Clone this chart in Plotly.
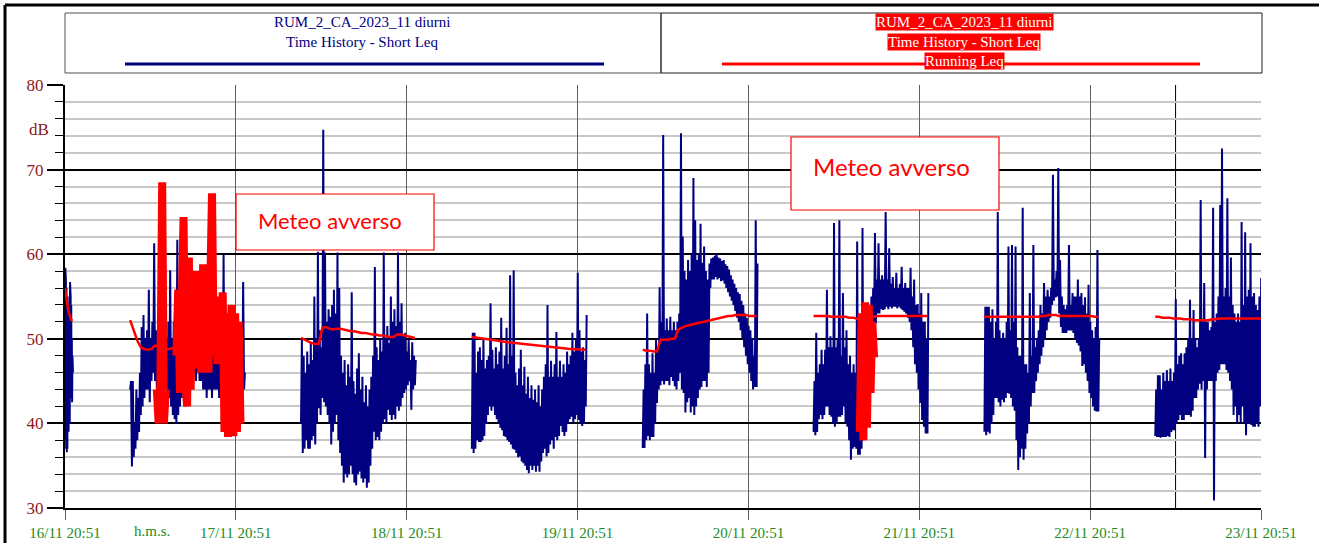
import pandas as pd
import plotly.graph_objects as go

# ---------------- data ----------------
AXIS_START = "2023-11-16 20:51"
AXIS_END = "2023-11-23 20:51"
day_ticks = ["2023-11-16 20:51", "2023-11-17 20:51", "2023-11-18 20:51", "2023-11-19 20:51",
             "2023-11-20 20:51", "2023-11-21 20:51", "2023-11-22 20:51", "2023-11-23 20:51"]
day_labels = ["16/11 20:51", "17/11 20:51", "18/11 20:51", "19/11 20:51",
              "20/11 20:51", "21/11 20:51", "22/11 20:51", "23/11 20:51"]
cursor_time = "2023-11-23 08:51"
y_ticks = [30, 40, 50, 60, 70, 80]

# daytime segments (start, step in minutes)
seg_starts = ["2023-11-16 20:51", "2023-11-17 06:00", "2023-11-18 06:00", "2023-11-19 06:00",
              "2023-11-20 06:00", "2023-11-21 06:00", "2023-11-22 06:00", "2023-11-23 06:00"]
short_step_min = [5, 15, 15, 15, 15, 15, 15, 15]
running_step_min = [5, 30, 30, 30, 30, 30, 30, 30]

# Short Leq: max and min within each interval (dB)
max_16 = [58.4, 57, 56, 55, 54, 53, 52, 55, 56.7, 55, 54, 50, 48, 46]
min_16 = [38, 39, 37, 36.6, 37, 38, 39, 41, 40, 42, 44, 43, 42.5, 43]

max_17 = [45, 45, 40, 44, 43, 46, 51.4, 52.8, 50, 51, 55.8, 50, 52, 61.3, 51, 50,
          49, 50, 48, 51, 50, 52, 58.1, 50, 52, 51, 61.7, 50, 52, 51, 50, 52,
          51, 50, 52, 51, 50, 52, 51, 50, 52, 51, 50, 49, 51, 50, 49, 50,
          51, 50, 49, 50, 60, 52, 50, 51, 49, 50, 48, 50, 49, 47, 50, 56.7, 46]
min_17 = [44, 34.9, 36, 37, 38, 39, 41, 42, 43, 44, 44, 42.5, 45, 46, 45, 44,
          42, 41, 42, 42, 43, 42, 43, 42, 41, 40.5, 40, 41, 42, 43, 44, 44,
          45, 45, 46, 45, 46, 45, 46, 45, 45, 44, 44, 43, 44, 44, 43, 44,
          44, 44, 43, 43, 42, 42, 41, 41, 40, 39.5, 40, 39, 39, 39.2, 40, 42, 44]

max_18 = [50, 48, 46, 48.5, 47, 49.5, 47.5, 55, 50, 60.3, 51, 49, 74.7, 60.2, 52, 53.5,
          52.6, 54, 55.8, 53, 60.2, 56, 48, 46, 47.5, 44.5, 47, 45.5, 55.5, 45, 43.5, 46.5,
          48.3, 44, 45.5, 42.5, 44.5, 42, 44, 45.5, 48, 58.5, 49, 47.5, 50, 48.5, 60.2, 50,
          51.5, 49.5, 55, 52, 53.5, 51.5, 60.2, 52, 54.2, 50.5, 50.7, 48.5, 50, 47.5, 49.6, 48, 47.5]
min_18 = [40, 36.5, 37, 38, 37, 37, 38, 38.5, 37.5, 40, 41.8, 41, 43, 42.5, 42, 41,
          40, 37.5, 39, 40, 41, 38, 36.5, 35, 33, 34, 33.6, 34, 35, 34, 33, 32.7,
          34, 34.3, 33.5, 33, 33.5, 32.4, 33, 35, 37, 39, 38, 38.4, 38, 39, 40, 40.5,
          40, 41.6, 41, 40.4, 41, 40.5, 42, 41.5, 42, 43, 43.6, 44, 44.5, 45, 41.6, 44, 44.5]

max_19 = [50.7, 50.7, 46, 48.5, 49, 47.5, 50, 46.5, 47.5, 48, 54.2, 48.7, 46.5, 49, 47, 48.5,
          52.5, 46.5, 48, 51.3, 47, 57.5, 48, 58.1, 46, 44.5, 46.5, 48.7, 44.5, 46.7, 43.5, 45.5,
          43, 44.5, 42.8, 44, 42.5, 44.5, 42, 44, 45.5, 47, 54, 45.5, 47.4, 45.5, 47, 50.8,
          45.5, 47.4, 45.5, 47, 46, 48.5, 47, 48, 50.7, 48.5, 50, 57.8, 51, 48.5, 49, 47.5, 52.8]
min_19 = [37, 36.5, 37, 38, 37.8, 37.8, 38, 38.5, 40, 41, 42, 41.5, 42, 41, 40.5, 40,
          39.5, 39.2, 38.5, 38.4, 38, 37.8, 37.5, 37, 36.9, 36.5, 36, 36.1, 35.5, 35.3, 35, 34.5,
          34.1, 35, 34.5, 35, 34.3, 35, 34.3, 35.5, 36.5, 37, 36.1, 36.5, 37.5, 38, 37, 38.4,
          38, 38.5, 39.7, 39, 38.5, 39, 40, 40.5, 40.8, 40, 40.5, 41, 40.4, 40, 39.7, 40, 42]

max_20 = [44, 47, 53, 47, 46, 48.3, 46, 49.9, 49, 56.1, 52, 74.1, 51, 52.4, 51, 52.6,
          51, 52, 51, 52, 53, 74.3, 62.1, 58, 57, 59.3, 58, 60, 69, 64, 59.3, 60,
          63.6, 59, 60.9, 58, 57, 58.9, 59.5, 59.6, 59.8, 60.1, 59.6, 59.5, 59.2, 59.3, 58.8, 58.6,
          58.2, 57.5, 57, 56.5, 56, 55.5, 55.3, 54.5, 54, 53, 52.5, 51.5, 51, 50, 48, 64, 58.9]
min_20 = [37.1, 37.1, 38, 38.5, 38, 38.4, 38.4, 40, 42.4, 44, 44.5, 45, 44.6, 45, 45, 44.5,
          45.5, 45, 44.4, 44, 45, 46, 44, 43.6, 41.3, 42.5, 43, 41.3, 42, 41, 42, 43,
          44, 44.3, 45, 45, 44.3, 46, 56, 57, 57, 57.3, 57, 57.2, 56.8, 56.9, 56.5, 56,
          55.5, 55, 54.5, 54, 53.3, 52.5, 52, 51, 50, 49, 48, 47, 46, 45, 44, 44.3, 44.3]

max_21 = [45, 50.7, 46, 47, 48.7, 47, 48.7, 55.8, 49, 50.3, 49, 63.7, 49, 50, 64, 48,
          55.4, 49, 51, 47, 48, 46, 47, 46, 61.5, 47, 46, 63.1, 50, 52, 53, 54,
          55, 56, 62.5, 57, 61.3, 57, 57.5, 57, 65, 57, 60.7, 56.5, 57.3, 56, 57.8, 56,
          56.5, 58.5, 56, 56.6, 56, 56, 58.4, 55, 57, 54, 54.1, 53, 55.4, 52, 52, 50, 55.4]
min_21 = [39, 38.6, 39, 40.5, 41, 40.5, 41, 42, 42, 41, 40.8, 40, 39.6, 40, 40.8, 40.8,
          41, 42, 40, 39.6, 38, 35.7, 37, 37.2, 37, 36.3, 36.3, 37, 38, 40, 42, 45,
          47, 50, 52, 51.8, 53, 53, 53.5, 53.4, 53.5, 53.8, 53.5, 53.8, 53.6, 53.8, 53.8, 53.6,
          53.8, 53.6, 53.4, 53.2, 53, 52.5, 52, 51, 49, 47, 46, 44, 42.4, 40.4, 39.6, 38.8, 38.8]

max_22 = [53.8, 53.8, 53.8, 52, 53.5, 50, 52, 65, 51, 50, 50.7, 50, 52, 60.9, 51, 61.1,
          52, 60.9, 49, 48, 48, 65.5, 47, 47, 46, 55.4, 48, 61.1, 49, 50, 51, 54,
          53, 56.6, 55, 55.8, 55, 56, 69.4, 57, 58, 70.2, 59.3, 55, 54, 53.5, 54, 61.1,
          54, 55.4, 55, 55, 57, 55, 55.4, 54, 54.9, 53, 56.4, 52, 51, 50, 51.4, 60.5, 50]
min_22 = [39, 38.6, 39, 38.8, 40, 41, 43, 43, 42.5, 42, 42.8, 42.5, 43, 43.6, 43.5, 43,
          42, 41.5, 38, 34.5, 36, 37, 35.7, 37, 38.8, 40, 42, 43.6, 43.6, 45, 46, 47,
          48, 49, 50, 51, 52, 52.5, 54, 54.5, 54.9, 55, 53, 51.4, 50.7, 50.7, 50.7, 51,
          51, 51, 50.7, 50, 49.5, 49.2, 48.5, 46.8, 47, 46, 45, 43.6, 43, 42, 41.5, 41.4, 41.4]

max_23 = [44, 45.7, 45.7, 44, 46, 45, 46.3, 45, 46.5, 45, 46, 54.7, 47, 48, 48.3, 47,
          48.3, 49, 50.1, 54.6, 50, 53.4, 50, 49, 50.1, 66.4, 52, 56.6, 52, 52, 51, 51.4,
          65.5, 52, 53, 55, 65.8, 72.5, 55, 56, 66.6, 55, 59.6, 54, 53, 52, 53, 52,
          63.8, 54, 62.6, 55, 55.8, 61.3, 55, 55.4, 54, 53.4, 55, 57.2]
min_23 = [38.5, 38.4, 38.4, 38.3, 38.4, 38.4, 38.4, 38.5, 38.4, 39, 39.2, 39.2, 40, 40.4, 41, 40.4,
          40.4, 41, 41, 41, 40.8, 41.5, 43, 43, 44, 44.7, 44, 45, 35.9, 44, 45, 45,
          45, 30.9, 45, 46, 46.3, 47, 47, 47, 46.3, 46, 45, 44, 41, 42, 40, 41,
          40, 42, 40, 38.6, 40, 40, 39.8, 39.6, 39.6, 40, 39.6, 42]

short_max = [max_16, max_17, max_18, max_19, max_20, max_21, max_22, max_23]
short_min = [min_16, min_17, min_18, min_19, min_20, min_21, min_22, min_23]

# Running Leq (dB)
run_16 = [56, 55.4, 55, 54.5, 54, 53.6, 53.2, 52.9, 52.6, 52.4, 52.3, 52.2, 52.2, 52.2]
run_17 = [52.2, 51, 49.8, 49, 48.8, 48.7, 48.8, 49.2, 49.0, 48.9, 48.8, 48.8, 48.9, 48.9, 49.0, 49.1,
          49.2, 49.3, 49.4, 49.5, 49.5, 49.6, 49.7, 49.7, 49.8, 49.8, 49.9, 49.9, 50.0, 50.0, 50.0, 50.0, 50.0]
run_18 = [50.1, 49.9, 49.7, 49.5, 49.4, 49.4, 51.3, 51.4, 51.2, 51.1, 51.2, 51.2, 51.1, 51.0, 50.9, 50.9,
          50.8, 50.7, 50.7, 50.6, 50.5, 50.5, 50.4, 50.4, 50.3, 50.2, 50.2, 50.5, 50.5, 50.4, 50.3, 50.2, 50.1]
run_19 = [50.2, 50.15, 50.1, 50.0, 49.95, 49.9, 49.85, 49.8, 49.7, 49.65, 49.6, 49.55, 49.5, 49.45, 49.4, 49.35,
          49.3, 49.25, 49.2, 49.15, 49.1, 49.05, 49.0, 48.95, 48.9, 48.88, 48.85, 48.82, 48.8, 48.78, 48.75, 48.72, 48.7]
run_20 = [48.7, 48.6, 48.6, 48.5, 48.5, 49.9, 49.9, 49.9, 50.0, 50.0, 51.1, 51.3, 51.5, 51.6, 51.7, 51.8,
          51.9, 52.0, 52.1, 52.2, 52.3, 52.4, 52.5, 52.6, 52.7, 52.7, 52.8, 52.8, 52.8, 52.8, 52.7, 52.7, 52.7]
run_21 = [52.7, 52.7, 52.7, 52.7, 52.7, 52.6, 52.6, 52.6, 52.6, 52.6, 52.5, 52.5, 52.4, 52.3, 52.3, 52.4,
          52.5, 52.6, 52.7, 52.7, 52.7, 52.7, 52.7, 52.7, 52.7, 52.7, 52.7, 52.7, 52.7, 52.7, 52.7, 52.7, 52.7]
run_22 = [52.6, 52.6, 52.6, 52.6, 52.6, 52.6, 52.6, 52.6, 52.6, 52.6, 52.6, 52.6, 52.6, 52.6, 52.6, 52.6,
          52.7, 52.7, 52.8, 52.8, 52.8, 52.7, 52.7, 52.7, 52.7, 52.7, 52.7, 52.7, 52.7, 52.7, 52.7, 52.6, 52.6]
run_23 = [52.6, 52.6, 52.5, 52.5, 52.5, 52.4, 52.4, 52.4, 52.3, 52.3, 52.3, 52.2, 52.2, 52.2, 52.2, 52.2,
          52.3, 52.3, 52.4, 52.4, 52.4, 52.4, 52.4, 52.4, 52.4, 52.4, 52.4, 52.4, 52.4, 52.4, 52.4]
running_leq = [run_16, run_17, run_18, run_19, run_20, run_21, run_22, run_23]

# Short Leq during adverse weather (highlighted in red)
weather_starts = ["2023-11-17 09:45", "2023-11-21 12:30"]
weather_step_min = 15
weather_a = [44, 40, 45, 68.5, 40, 44, None, None, None, None, None, 48, 55.8, 43.6, 52, 64.4,
             45, 42, 59.6, 44, 56, 47, 58, 46.5, 57, 46, 58.8, 47, 57.5, 46, 56, 67.2,
             48, 55, 47, 54, 49, 55.5, 39, 53, 38.4, 50, 54, 38.5, 53, 39, 52, 40]
weather_b = [39, 53, 38, 54.3, 39.5, 54, 43.6, 52, 47.8]
weather_leq = [weather_a, weather_b]

# ---------------- helpers ----------------
def build_line(starts, steps, series):
    xs, ys = [], []
    for s, st, vals in zip(starts, steps, series):
        t = pd.Timestamp(s)
        for k, v in enumerate(vals):
            xs.append(t + pd.Timedelta(minutes=st * k))
            ys.append(v)
        xs.append(None)
        ys.append(None)
    return xs, ys


def build_envelope(starts, steps, maxs, mins):
    # each interval drawn as a stroke from its minimum to its maximum
    xs, ys = [], []
    for s, st, hi, lo in zip(starts, steps, maxs, mins):
        t = pd.Timestamp(s)
        for k, (h, l) in enumerate(zip(hi, lo)):
            t_k = t + pd.Timedelta(minutes=st * k)
            xs += [t_k, t_k + pd.Timedelta(minutes=st / 2)]
            ys += [l, h]
        xs.append(None)
        ys.append(None)
    return xs, ys


bx, by = build_envelope(seg_starts, short_step_min, short_max, short_min)
rx, ry = build_line(seg_starts, running_step_min, running_leq)
wx, wy = build_line(weather_starts, [weather_step_min] * len(weather_starts), weather_leq)

# ---------------- figure ----------------
W, H = 1319, 543
L, R, T, B = 65, 1261, 85, 508


def xp(px):
    return (px - L) / (R - L)


def yp(py):
    return (B - py) / (B - T)


NAVY = "#000080"
RED = "#FF0000"
MAROON = "#8B1A1A"
GREEN = "#238B23"
SERIF = "Liberation Serif"

fig = go.Figure()
fig.add_trace(go.Scatter(x=bx, y=by, mode="lines", line=dict(color=NAVY, width=2),
                         connectgaps=False, showlegend=False, hoverinfo="skip"))
fig.add_trace(go.Scatter(x=rx, y=ry, mode="lines", line=dict(color=RED, width=2.5),
                         connectgaps=False, showlegend=False, hoverinfo="skip"))
fig.add_trace(go.Scatter(x=wx, y=wy, mode="lines", line=dict(color=RED, width=8),
                         connectgaps=False, showlegend=False, hoverinfo="skip"))

shapes = []
shapes.append(dict(type="line", xref="x", yref="y domain", x0=cursor_time, x1=cursor_time,
                   y0=0, y1=1, line=dict(color="black", width=1), layer="below"))
# outer frame
shapes.append(dict(type="line", xref="paper", yref="paper", x0=xp(5), x1=xp(1319), y0=yp(5), y1=yp(5),
                   line=dict(color="black", width=3)))
shapes.append(dict(type="line", xref="paper", yref="paper", x0=xp(5), x1=xp(5), y0=yp(5), y1=yp(543),
                   line=dict(color="black", width=3)))
# legend boxes
shapes.append(dict(type="rect", xref="paper", yref="paper", x0=xp(65), x1=xp(661), y0=yp(13), y1=yp(73),
                   line=dict(color="#505050", width=1)))
shapes.append(dict(type="rect", xref="paper", yref="paper", x0=xp(661), x1=xp(1262), y0=yp(13), y1=yp(73),
                   line=dict(color="#202020", width=1)))
shapes.append(dict(type="line", xref="paper", yref="paper", x0=xp(125), x1=xp(604), y0=yp(64), y1=yp(64),
                   line=dict(color=NAVY, width=3)))
shapes.append(dict(type="line", xref="paper", yref="paper", x0=xp(722), x1=xp(1200), y0=yp(64), y1=yp(64),
                   line=dict(color=RED, width=3)))
# "Meteo avverso" boxes
shapes.append(dict(type="rect", xref="paper", yref="paper", x0=xp(236), x1=xp(434), y0=yp(194), y1=yp(250),
                   line=dict(color=RED, width=1.2), fillcolor="white", layer="above"))
shapes.append(dict(type="rect", xref="paper", yref="paper", x0=xp(791), x1=xp(999), y0=yp(137), y1=yp(210),
                   line=dict(color=RED, width=1.2), fillcolor="white", layer="above"))

ann = []


def txt(px, py, s, size, color, family=SERIF, bg=None):
    d = dict(xref="paper", yref="paper", x=xp(px), y=yp(py), text=s, showarrow=False,
             xanchor="center", yanchor="middle", font=dict(family=family, size=size, color=color))
    if bg:
        d.update(bgcolor=bg, borderpad=0)
    ann.append(d)


txt(362, 22, "RUM_2_CA_2023_11 diurni", 15, NAVY)
txt(362, 42, "Time History - Short Leq", 15, NAVY)
txt(964, 22, "RUM_2_CA_2023_11 diurni", 15, "white", bg=RED)
txt(964, 42, "Time History - Short Leq", 15, "white", bg=RED)
txt(964, 61, "Running Leq", 15, "white", bg=RED)
txt(39, 129, "dB", 17, MAROON)
txt(152, 531, "h.m.s.", 15, GREEN)
txt(330, 220, "Meteo avverso", 22, RED, family="Lato")
txt(891, 166, "Meteo avverso", 24, RED, family="Lato")

fig.update_layout(
    width=W, height=H,
    margin=dict(l=L, r=W - R, t=T, b=H - B, pad=0, autoexpand=False),
    paper_bgcolor="white", plot_bgcolor="white",
    shapes=shapes, annotations=ann,
    xaxis=dict(type="date", range=[AXIS_START, AXIS_END], tickvals=day_ticks, ticktext=day_labels,
               automargin=False,
               showgrid=True, gridcolor="#606060", gridwidth=1.3,
               ticks="outside", ticklen=10, tickcolor="#606060", tickwidth=1.3,
               tickfont=dict(family=SERIF, size=15, color=GREEN),
               showline=True, linecolor="black", linewidth=2, zeroline=False),
    yaxis=dict(range=[30, 80], tickvals=y_ticks, automargin=False,
               ticks="outside", ticklen=16, tickcolor="black", tickwidth=1.5,
               tickfont=dict(family=SERIF, size=17, color=MAROON),
               showgrid=True, gridcolor="black", gridwidth=2.2,
               showline=True, linecolor="black", linewidth=2, zeroline=False,
               minor=dict(dtick=2, tick0=30, ticks="outside", ticklen=8, tickcolor="black", tickwidth=1.2,
                          showgrid=True, gridcolor="#c8c8c8", gridwidth=2)),
)

fig.write_html("out.html", config={"displayModeBar": False},
               post_script="document.body.style.margin='0px';document.body.style.overflow='hidden';")
